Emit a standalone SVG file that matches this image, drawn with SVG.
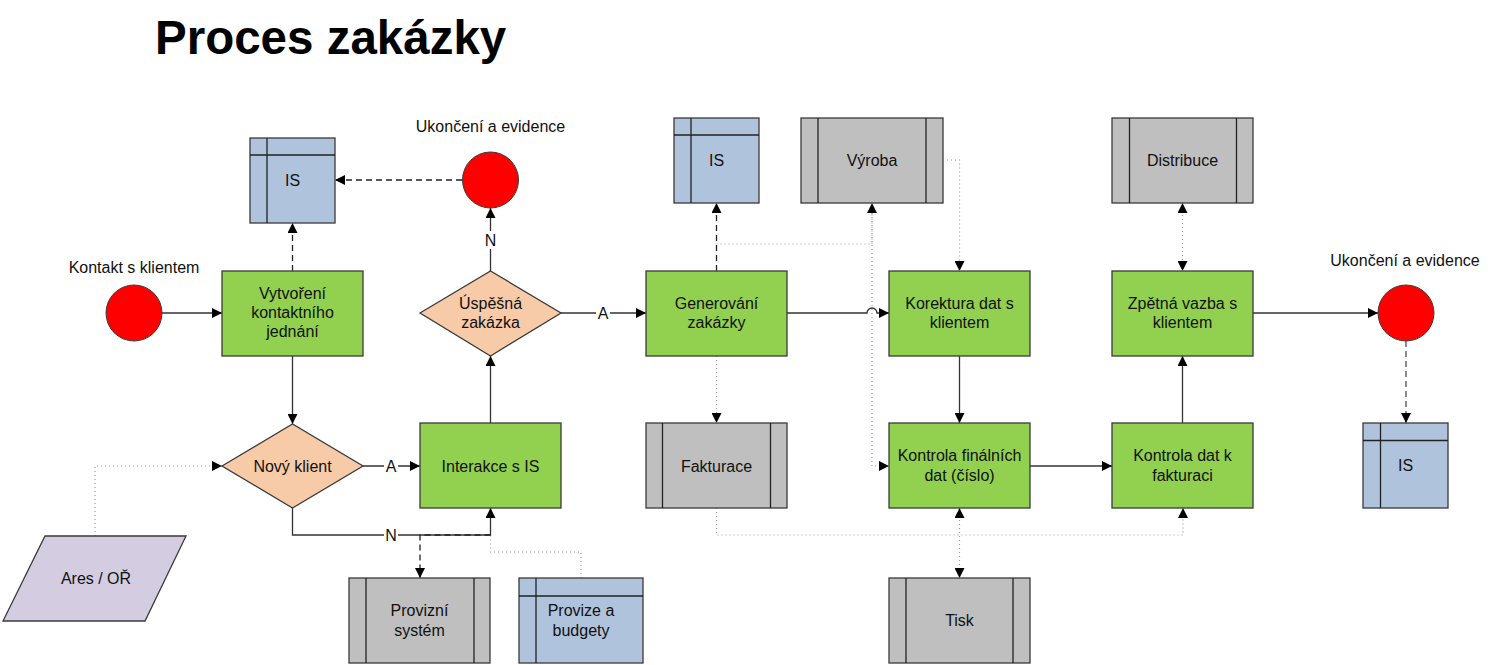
<svg xmlns="http://www.w3.org/2000/svg" width="1491" height="665" viewBox="0 0 1491 665">
<defs>
<marker id="arr" viewBox="0 0 10 10" refX="10" refY="5" markerWidth="11" markerHeight="10" markerUnits="userSpaceOnUse" orient="auto-start-reverse">
<path d="M0,0 L10,5 L0,10 z" fill="#000"/>
</marker>
<style>
text{font-family:"Liberation Sans",Arial,sans-serif;font-size:16px;fill:#111;text-anchor:middle}
.title{font-size:47.5px;font-weight:bold;fill:#000;text-anchor:start}
.green{fill:#92D050;stroke:#3a3a3a;stroke-width:1.3}
.gray{fill:#BFBFBF;stroke:#3a3a3a;stroke-width:1.3}
.blue{fill:#B0C3DC;stroke:#3a3a3a;stroke-width:1.3}
.peach{fill:#F8CBA8;stroke:#3a3a3a;stroke-width:1.3}
.lav{fill:#D4CCE0;stroke:#3a3a3a;stroke-width:1.3}
.red{fill:#FF0000;stroke:#3a3a3a;stroke-width:1}
.inner{stroke:#222;stroke-width:1.3;fill:none}
.solid{fill:none;stroke:#333;stroke-width:1.3}
.dash{fill:none;stroke:#222;stroke-width:1.3;stroke-dasharray:6 4}
.dashg{fill:none;stroke:#666;stroke-width:1.5;stroke-dasharray:6 4}
.dot{fill:none;stroke:#9a9a9a;stroke-width:1.2;stroke-dasharray:1 3}
.lbg{fill:#fff}
</style>
</defs>
<rect width="1491" height="665" fill="#fff"/>
<text class="title" x="155" y="54">Proces zakázky</text>

<g id="connectors">
<path class="solid" d="M162,313 L222,313" marker-end="url(#arr)"/>
<path class="solid" d="M292.5,356 L292.5,424" marker-end="url(#arr)"/>
<path class="solid" d="M363,466 L420,466" marker-end="url(#arr)"/>
<path class="solid" d="M292.5,508 L292.5,535 L490.5,535 L490.5,508" marker-end="url(#arr)"/>
<path class="solid" d="M490.5,423 L490.5,356" marker-end="url(#arr)"/>
<path class="solid" d="M490.5,271 L490.5,208" marker-end="url(#arr)"/>
<path class="solid" d="M561,313 L646,313" marker-end="url(#arr)"/>
<path class="solid" d="M787,313 L867,313 A5,5 0 0 1 877,313 L889,313" marker-end="url(#arr)"/>
<path class="solid" d="M959.5,356 L959.5,423" marker-end="url(#arr)"/>
<path class="solid" d="M1030,466 L1112,466" marker-end="url(#arr)"/>
<path class="solid" d="M1182.5,423 L1182.5,356" marker-end="url(#arr)"/>
<path class="solid" d="M1253,313 L1378,313" marker-end="url(#arr)"/>

<path class="dash" d="M462,180 L335,180" marker-end="url(#arr)"/>
<path class="dash" d="M292.5,271 L292.5,223" marker-end="url(#arr)"/>
<path class="dash" d="M716.5,271 L716.5,203" marker-end="url(#arr)"/>
<path class="dash" d="M490.5,535 L420,535 L420,578" marker-end="url(#arr)"/>
<path class="dashg" d="M1406,341 L1406,423" marker-end="url(#arr)"/>

<path class="dot" d="M95,536 L95,466 L222,466" marker-end="url(#arr)"/>
<path class="dot" d="M581,578 L581,552 L490.5,552 L490.5,536"/>
<path class="dot" d="M716.5,356 L716.5,423" marker-end="url(#arr)"/>
<path class="dot" d="M716.5,244 L872,244 L872,203" marker-end="url(#arr)"/>
<path class="dot" d="M872,213 L872,466 L889,466" marker-end="url(#arr)"/>
<path class="dot" d="M947,160 L959.5,160 L959.5,271" marker-end="url(#arr)"/>
<path class="dot" d="M716.5,508 L716.5,535 L1183,535 L1183,508" marker-end="url(#arr)"/>
<path class="dot" d="M959.5,508 L959.5,578" marker-start="url(#arr)" marker-end="url(#arr)"/>
<path class="dot" d="M1182.5,203 L1182.5,271" marker-start="url(#arr)" marker-end="url(#arr)"/>

<rect class="lbg" x="384" y="456" width="14" height="18"/>
<text x="391" y="471.5">A</text>
<rect class="lbg" x="384" y="527" width="14" height="16"/>
<text x="391" y="541">N</text>
<rect class="lbg" x="483" y="231" width="14" height="18"/>
<text x="490.5" y="246">N</text>
<rect class="lbg" x="596" y="305" width="14" height="16"/>
<text x="603" y="319">A</text>
</g>

<g id="start">
<circle class="red" cx="134" cy="313" r="28"/>
<text x="134" y="273">Kontakt s klientem</text>
</g>

<g id="is1">
<rect class="blue" x="250" y="138" width="85" height="85"/>
<path class="inner" d="M267,138 V223 M250,155 H335"/>
<text x="292.5" y="186">IS</text>
</g>

<g id="vytvoreni">
<rect class="green" x="222" y="271" width="141" height="85"/>
<text x="292.5" y="298.6">Vytvoření</text>
<text x="292.5" y="318">kontaktního</text>
<text x="292.5" y="337.3">jednání</text>
</g>

<g id="end1">
<circle class="red" cx="490.5" cy="180" r="28"/>
<text x="490.5" y="132">Ukončení a evidence</text>
</g>

<g id="uspesna">
<polygon class="peach" points="420,313 490.5,271 561,313 490.5,356"/>
<text x="490.5" y="308.5">Úspěšná</text>
<text x="490.5" y="328">zakázka</text>
</g>

<g id="novy">
<polygon class="peach" points="222,466 292.5,424 363,466 292.5,508"/>
<text x="292.5" y="471.5">Nový klient</text>
</g>

<g id="interakce">
<rect class="green" x="420" y="423" width="141" height="85"/>
<text x="490.5" y="471.5">Interakce s IS</text>
</g>

<g id="provizni">
<rect class="gray" x="349" y="578" width="141" height="85"/>
<path class="inner" d="M366,578 V663 M474,578 V663"/>
<text x="419.5" y="615.6">Provizní</text>
<text x="419.5" y="635.6">systém</text>
</g>

<g id="provize">
<rect class="blue" x="519" y="578" width="124" height="85"/>
<path class="inner" d="M536,578 V663 M519,596 H643"/>
<text x="581" y="615.6">Provize a</text>
<text x="581" y="635.6">budgety</text>
</g>

<g id="ares">
<polygon class="lav" points="45,536 186,536 145,621 3,621"/>
<text x="96" y="584">Ares / OŘ</text>
</g>

<g id="is2">
<rect class="blue" x="674" y="118" width="85" height="85"/>
<path class="inner" d="M691,118 V203 M674,135 H759"/>
<text x="716.5" y="165.5">IS</text>
</g>

<g id="vyroba">
<rect class="gray" x="801" y="118" width="142" height="85"/>
<path class="inner" d="M818,118 V203 M926,118 V203"/>
<text x="872" y="165.5">Výroba</text>
</g>

<g id="generovani">
<rect class="green" x="646" y="271" width="141" height="85"/>
<text x="716.5" y="308.5">Generování</text>
<text x="716.5" y="328">zakázky</text>
</g>

<g id="fakturace">
<rect class="gray" x="646" y="423" width="141" height="85"/>
<path class="inner" d="M662.5,423 V508 M770.5,423 V508"/>
<text x="716.5" y="471.5">Fakturace</text>
</g>

<g id="korektura">
<rect class="green" x="889" y="271" width="141" height="85"/>
<text x="959.5" y="308.5">Korektura dat s</text>
<text x="959.5" y="328">klientem</text>
</g>

<g id="kontrola-finalnich">
<rect class="green" x="889" y="423" width="141" height="85"/>
<text x="959.5" y="461">Kontrola finálních</text>
<text x="959.5" y="480.5">dat (číslo)</text>
</g>

<g id="tisk">
<rect class="gray" x="889" y="578" width="141" height="85"/>
<path class="inner" d="M906,578 V663 M1013,578 V663"/>
<text x="959.5" y="626">Tisk</text>
</g>

<g id="distribuce">
<rect class="gray" x="1112" y="118" width="141" height="85"/>
<path class="inner" d="M1129.5,118 V203 M1236.5,118 V203"/>
<text x="1182.5" y="165.5">Distribuce</text>
</g>

<g id="zpetna">
<rect class="green" x="1112" y="271" width="141" height="85"/>
<text x="1182.5" y="308.5">Zpětná vazba s</text>
<text x="1182.5" y="328">klientem</text>
</g>

<g id="kontrola-fakturace">
<rect class="green" x="1112" y="423" width="141" height="85"/>
<text x="1182.5" y="461">Kontrola dat k</text>
<text x="1182.5" y="480.5">fakturaci</text>
</g>

<g id="end2">
<circle class="red" cx="1406" cy="313" r="28"/>
<text x="1405" y="266">Ukončení a evidence</text>
</g>

<g id="is3">
<rect class="blue" x="1363" y="423" width="85" height="85"/>
<path class="inner" d="M1380.5,423 V508 M1363,440.5 H1448"/>
<text x="1405.5" y="471">IS</text>
</g>
</svg>
